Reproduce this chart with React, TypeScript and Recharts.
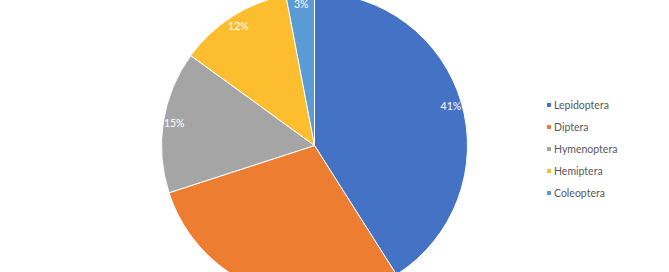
import { PieChart, Pie, Cell } from "recharts";

const insects = ["Lepidoptera", "Diptera", "Hymenoptera", "Hemiptera", "Coleoptera"];
const shares = [41, 29, 15, 12, 3];
const colors = ["#4472C4", "#ED7D31", "#A5A5A5", "#FCBE2E", "#5B9BD5"];

const data = insects.map((name, i) => ({ name, value: shares[i] }));

const RAD = Math.PI / 180;
const FONT = "Lato, 'Liberation Sans', sans-serif";

// percent labels sit just inside the rim, like Excel's "inside end"
function renderLabel(props: any) {
  const { cx, cy, midAngle, outerRadius, percent } = props;
  const r = outerRadius - 11;
  const x = cx + r * Math.cos(-midAngle * RAD);
  const y = cy + r * Math.sin(-midAngle * RAD);
  return (
    <text
      x={x}
      y={y}
      fill="#ffffff"
      fontSize={10.5}
      fontFamily={FONT}
      textAnchor="middle"
      dominantBaseline="central"
    >
      {`${Math.round(percent * 100)}%`}
    </text>
  );
}

export default function App() {
  return (
    <div style={{ position: "absolute", left: 0, top: 0, width: 669, height: 272, background: "#fff" }}>
      <PieChart width={669} height={272} margin={{ top: 0, right: 0, bottom: 0, left: 0 }}>
        <Pie
          data={data}
          dataKey="value"
          nameKey="name"
          cx={314.5}
          cy={145.5}
          outerRadius={153}
          startAngle={90}
          endAngle={-270}
          stroke="#ffffff"
          strokeWidth={1}
          label={renderLabel}
          labelLine={false}
          isAnimationActive={false}
        >
          {data.map((d, i) => (
            <Cell key={d.name} fill={colors[i]} />
          ))}
        </Pie>
      </PieChart>
      {/* legend on the right */}
      <ul style={{ position: "absolute", left: 547, top: 94, listStyle: "none", margin: 0, padding: 0 }}>
        {insects.map((name, i) => (
          <li
            key={name}
            style={{
              display: "flex",
              alignItems: "center",
              height: 22,
              fontSize: 10.5,
              color: "#595959",
              fontFamily: FONT,
            }}
          >
            <span
              style={{
                display: "inline-block",
                width: 4,
                height: 4,
                background: colors[i],
                marginRight: 3,
              }}
            />
            {name}
          </li>
        ))}
      </ul>
    </div>
  );
}
